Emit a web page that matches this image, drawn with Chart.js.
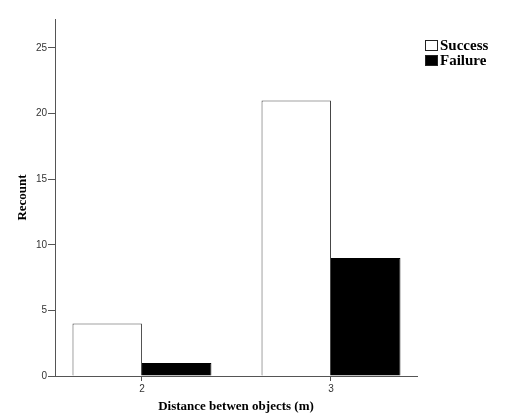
<!DOCTYPE html>
<html>
<head>
<meta charset="utf-8">
<script src="https://cdn.jsdelivr.net/npm/chart.js@4/dist/chart.umd.min.js"></script>
<style>
  html, body { margin: 0; padding: 0; background: #fff; }
  #wrap { width: 513px; height: 420px; }
</style>
</head>
<body>
<div id="wrap"><canvas id="recountChart"></canvas></div>
<script>
const distances = [2, 3];
const success = [4, 21];
const failure = [1, 9];
const yTicks = [0, 5, 10, 15, 20, 25];

const serif = '"Liberation Serif", "DejaVu Serif", serif';
const sans = '"Liberation Sans", Arial, sans-serif';
const axisColor = '#555555';

// simple legend drawn at the top right, like the original
const sideLegend = {
  id: 'sideLegend',
  afterDraw(chart) {
    const c = chart.ctx;
    const x = chart.chartArea.right + 8;
    let y = 40;
    c.save();
    c.font = 'bold 15px ' + serif;
    c.textBaseline = 'middle';
    chart.data.datasets.forEach(ds => {
      c.fillStyle = ds.backgroundColor;
      c.fillRect(x, y, 13, 11);
      c.strokeStyle = '#222';
      c.lineWidth = 1;
      c.strokeRect(x + 0.5, y + 0.5, 12, 10);
      c.fillStyle = '#000';
      c.fillText(ds.label, x + 15, y + 6);
      y += 15;
    });
    c.restore();
  }
};

const ctx = document.getElementById('recountChart').getContext('2d');

new Chart(ctx, {
  type: 'bar',
  data: {
    datasets: [
      {
        label: 'Success',
        data: distances.map((d, i) => ({ x: d, y: success[i] })),
        backgroundColor: '#ffffff',
        borderColor: '#444444',
        borderWidth: 1,
      },
      {
        label: 'Failure',
        data: distances.map((d, i) => ({ x: d, y: failure[i] })),
        backgroundColor: '#000000',
        borderColor: '#000000',
        borderWidth: 1,
      }
    ]
  },
  options: {
    responsive: true,
    maintainAspectRatio: false,
    animation: false,
    layout: { padding: { top: 19, right: 96, bottom: 4, left: 8 } },
    datasets: {
      bar: { categoryPercentage: 0.735, barPercentage: 1 }
    },
    plugins: {
      legend: { display: false },
      tooltip: { enabled: false }
    },
    scales: {
      x: {
        type: 'linear',
        min: 1.54,
        max: 3.455,
        offset: false,
        afterBuildTicks: scale => { scale.ticks = distances.map(v => ({ value: v })); },
        afterFit: scale => { scale.height = 40; },
        border: { display: true, color: axisColor, width: 1 },
        grid: { display: true, offset: false, drawOnChartArea: false, drawTicks: true, tickLength: 5, color: axisColor },
        ticks: { color: '#333', padding: 2, font: { family: sans, size: 10 } },
        title: {
          display: true,
          text: 'Distance betwen objects (m)',
          color: '#000',
          padding: { top: 0, bottom: 2 },
          font: { family: serif, size: 13, weight: 'bold' }
        }
      },
      y: {
        min: 0,
        max: 27.2,
        afterBuildTicks: scale => { scale.ticks = yTicks.map(v => ({ value: v })); },
        afterFit: scale => { scale.width = 47; },
        border: { display: true, color: axisColor, width: 1 },
        grid: { display: true, drawOnChartArea: false, drawTicks: true, tickLength: 7, color: axisColor },
        ticks: { color: '#333', padding: 1, font: { family: sans, size: 10 } },
        title: {
          display: true,
          text: 'Recount',
          color: '#000',
          padding: { top: 7, bottom: 0 },
          font: { family: serif, size: 13, weight: 'bold' }
        }
      }
    }
  },
  plugins: [sideLegend]
});
</script>
</body>
</html>
